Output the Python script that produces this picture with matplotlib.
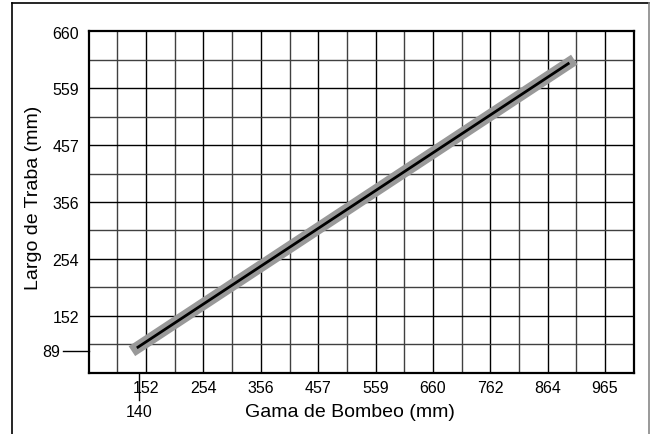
import numpy as np
import matplotlib
matplotlib.use("Agg")
import matplotlib.pyplot as plt
import matplotlib.transforms as mtransforms
from matplotlib.lines import Line2D

# axis labels and ticks (mm)
x_ticks = [152, 254, 356, 457, 559, 660, 762, 864, 965]
y_ticks = [152, 254, 356, 457, 559, 660]
x_start_tick = 140   # offset tick under the axis
y_start_tick = 89    # offset tick left of the axis
x_label = "Gama de Bombeo (mm)"
y_label = "Largo de Traba (mm)"

# the fitted line (start / end)
line_x = [136, 902]
line_y = [95, 604]

# grid spacing is 2 in = 50.8 mm
grid_step = 50.8
x_min, x_max = 50.8, 1016.0
y_min, y_max = 50.8, 660.4

plt.rcParams['font.family'] = ['Liberation Sans', 'DejaVu Sans']
tick_fs = 11.5

fig = plt.figure(figsize=(6.5, 4.35), dpi=100)
ax = fig.add_axes([0.1365, 0.141, 0.8385, 0.7847])

ax.set_xlim(x_min, x_max)
ax.set_ylim(y_min, y_max)

# grid: labelled lines black, in-between lines a bit lighter
x_grid = np.arange(x_min, x_max + 1, grid_step)
y_grid = np.arange(y_min, y_max + 1, grid_step)
for i, gx in enumerate(x_grid[1:-1], start=1):
    ax.axvline(gx, color='black' if i % 2 == 0 else '#404040', lw=1.0, zorder=1)
for i, gy in enumerate(y_grid[1:-1], start=1):
    ax.axhline(gy, color='black' if i % 2 == 0 else '#404040', lw=1.0, zorder=1)

# grey band + black centre line
ax.plot(line_x, line_y, color='#999999', lw=8.5, solid_capstyle='projecting', zorder=3)
ax.plot(line_x, line_y, color='black', lw=2.0, solid_capstyle='butt', zorder=4)

for sp in ax.spines.values():
    sp.set_linewidth(1.6)
    sp.set_zorder(5)

ax.set_xticks(x_ticks)
ax.set_xticklabels([str(v) for v in x_ticks])
ax.set_yticks(y_ticks)
ax.set_yticklabels([str(v) for v in y_ticks])
ax.tick_params(axis='both', length=0, labelsize=tick_fs)
ax.tick_params(axis='x', pad=5)
ax.tick_params(axis='y', pad=7)

# the two offset ticks (140 / 89) with their leader lines
tx = mtransforms.blended_transform_factory(ax.transData, ax.transAxes)
ty = mtransforms.blended_transform_factory(ax.transAxes, ax.transData)
ax.plot([x_start_tick, x_start_tick], [0, -27 / 341.4], transform=tx,
        color='black', lw=1.0, clip_on=False)
ax.text(x_start_tick, -31 / 341.4, str(x_start_tick), transform=tx,
        ha='center', va='top', fontsize=tick_fs)
ax.plot([0, -26 / 545.3], [y_start_tick, y_start_tick], transform=ty,
        color='black', lw=1.0, clip_on=False)
ax.text(-29 / 545.3, y_start_tick, str(y_start_tick), transform=ty,
        ha='right', va='center', fontsize=tick_fs)

ax.set_xlabel(x_label, fontsize=14)
ax.xaxis.set_label_coords(0.48, -0.088)
ax.set_ylabel(y_label, fontsize=14)
ax.yaxis.set_label_coords(-0.086, 0.515)

# page frame
fig.add_artist(Line2D([12/650, 12/650], [0, 1 - 4/435], color='black', lw=1.2))
fig.add_artist(Line2D([12/650, 649/650], [1 - 4/435, 1 - 4/435], color='black', lw=1.2))
fig.add_artist(Line2D([649/650, 649/650], [0, 1 - 4/435], color='#888888', lw=1.2))

fig.savefig("out.png", dpi=100)
